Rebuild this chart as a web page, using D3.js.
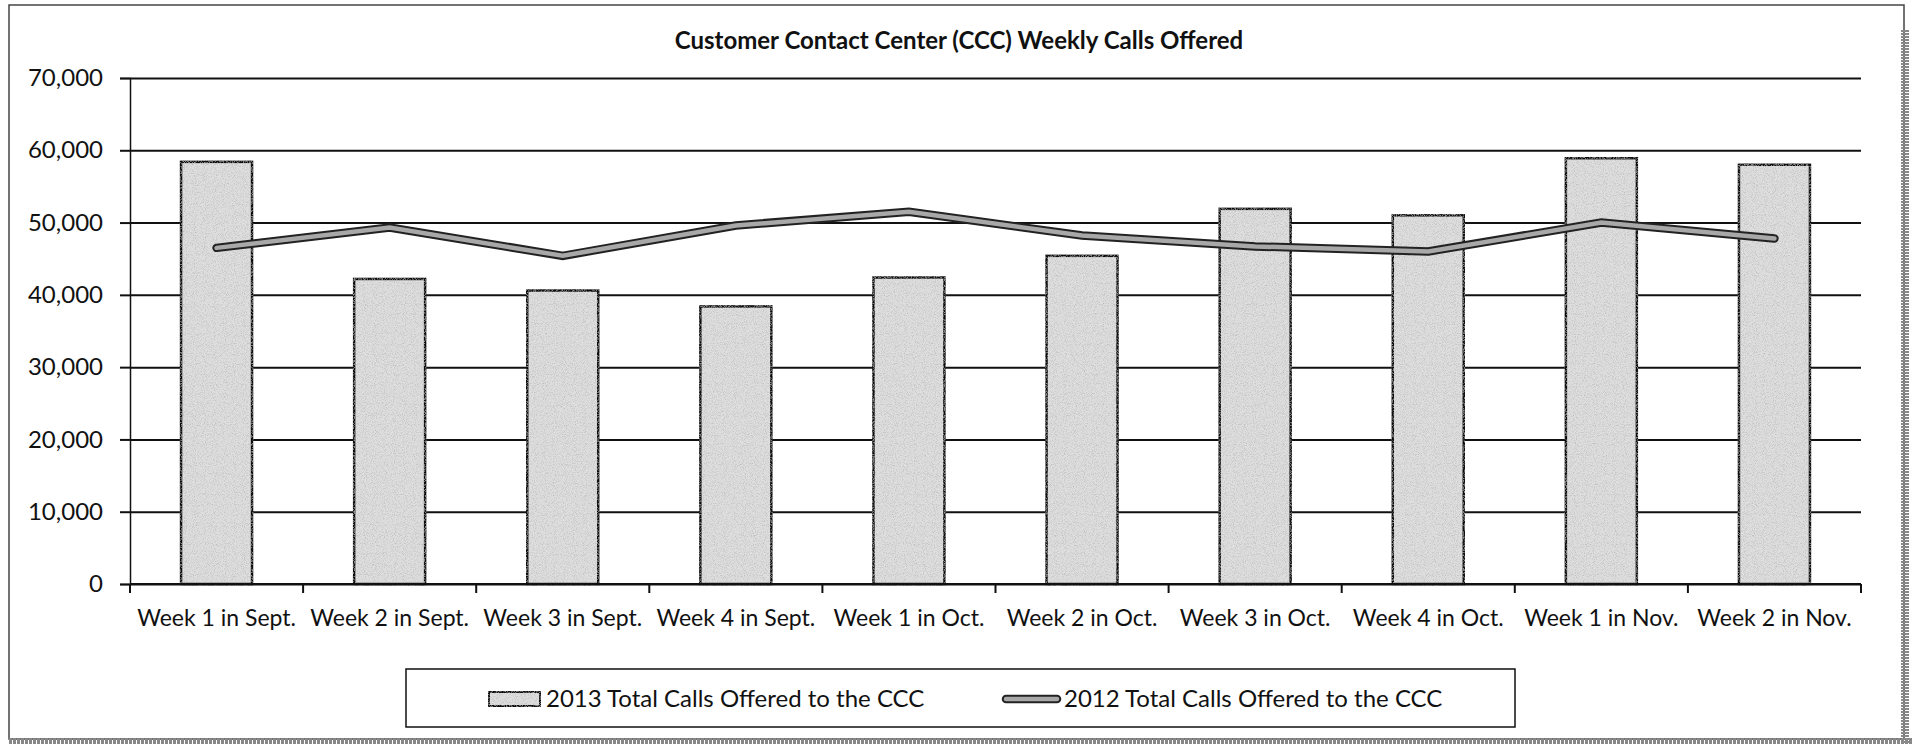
<!DOCTYPE html>
<html>
<head>
<meta charset="utf-8">
<script src="https://d3js.org/d3.v7.min.js"></script>
<style>
  body { margin: 0; background: #fff; }
  svg text { font-family: Lato, "Open Sans", sans-serif; fill: #111; }
</style>
</head>
<body>
<div id="chart"></div>
<script>
// chart data
const weeks = ["Week 1 in Sept.", "Week 2 in Sept.", "Week 3 in Sept.", "Week 4 in Sept.",
               "Week 1 in Oct.", "Week 2 in Oct.", "Week 3 in Oct.", "Week 4 in Oct.",
               "Week 1 in Nov.", "Week 2 in Nov."]
const calls2013 = [58400, 42200, 40600, 38400, 42400, 45400, 51900, 51000, 58900, 58000]
const calls2012 = [46500, 49300, 45400, 49600, 51500, 48200, 46700, 46000, 50000, 47800]
const yTicks = [0, 10000, 20000, 30000, 40000, 50000, 60000, 70000]
const title = "Customer Contact Center (CCC) Weekly Calls Offered"
const seriesNames = ["2013 Total Calls Offered to the CCC", "2012 Total Calls Offered to the CCC"]

buildChart()

function buildChart() {
    let W = 1913, H = 744
    let plot = {left: 130, right: 1861, top: 78, bottom: 584}

    let svg = d3.select("#chart")
                .append("svg")
                    .attr("width", W)
                    .attr("height", H)

    // speckled fill for the bars
    let defs = svg.append("defs")
    let filt = defs.append("filter").attr("id", "speckle")
    filt.append("feTurbulence")
            .attr("type", "fractalNoise")
            .attr("baseFrequency", 1.1)
            .attr("numOctaves", 1)
            .attr("seed", 3)
            .attr("result", "noise")
    filt.append("feColorMatrix")
            .attr("in", "noise")
            .attr("type", "matrix")
            .attr("values", "0 0 0 0 0.45  0 0 0 0 0.45  0 0 0 0 0.45  0 0 0 -2.2 1.2")
            .attr("result", "dots")
    filt.append("feComposite")
            .attr("in", "dots")
            .attr("in2", "SourceGraphic")
            .attr("operator", "in")
            .attr("result", "dotsIn")
    let merge = filt.append("feMerge")
    merge.append("feMergeNode").attr("in", "SourceGraphic")
    merge.append("feMergeNode").attr("in", "dotsIn")

    // outer frame
    svg.append("rect")
        .attr("x", 9).attr("y", 5)
        .attr("width", 1895).attr("height", 734)
        .attr("fill", "none")
        .attr("stroke", "#444")
        .attr("stroke-width", 1.5)
    svg.append("line")
        .attr("x1", 1905).attr("x2", 1905).attr("y1", 30).attr("y2", 744)
        .attr("stroke", "#888").attr("stroke-width", 8)
        .attr("stroke-dasharray", "2 1")
    svg.append("line")
        .attr("x1", 9).attr("x2", 1913).attr("y1", 741).attr("y2", 741)
        .attr("stroke", "#888").attr("stroke-width", 6)
        .attr("stroke-dasharray", "3 1")

    // scales
    let x = d3.scaleBand()
                .domain(weeks)
                .range([plot.left, plot.right])
                .padding(0)
    let xBar = d3.scaleBand()
                .domain(weeks)
                .range([plot.left, plot.right])
                .paddingInner(0.59)
                .paddingOuter(0.295)
    let y = d3.scaleLinear()
                .domain([0, 70000])
                .range([plot.bottom, plot.top])

    // gridlines
    svg.append("g")
        .attr("transform", `translate(${plot.left},0)`)
        .call(d3.axisLeft(y).tickValues(yTicks).tickSize(-(plot.right - plot.left)).tickFormat(""))
        .call(g => g.select(".domain").remove())
        .selectAll("line")
            .attr("stroke", "#111")
            .attr("stroke-width", 2)

    // y axis
    let yAxis = svg.append("g")
        .attr("transform", `translate(${plot.left},0)`)
        .call(d3.axisLeft(y).tickValues(yTicks).tickSize(10).tickPadding(17).tickFormat(d3.format(",")))
    yAxis.select(".domain").attr("stroke", "#111").attr("stroke-width", 1.5)
    yAxis.selectAll("line").attr("stroke", "#111").attr("stroke-width", 2)
    yAxis.selectAll("text")
            .attr("font-size", 24)
            .attr("font-family", "Lato, sans-serif")
            .attr("fill", "#111")

    // bars
    svg.selectAll("rect.bar")
        .data(calls2013)
        .enter().append("rect")
            .attr("class", "bar")
            .attr("x", (d, i) => xBar(weeks[i]))
            .attr("width", xBar.bandwidth())
            .attr("y", d => y(d))
            .attr("height", d => y(0) - y(d))
            .attr("fill", "#dedede")
            .attr("filter", "url(#speckle)")
            .attr("stroke", "#111")
            .attr("stroke-width", 2.5)

    // x axis
    svg.append("line")
        .attr("x1", plot.left).attr("x2", plot.right)
        .attr("y1", y(0)).attr("y2", y(0))
        .attr("stroke", "#111").attr("stroke-width", 2)
    let edges = weeks.map(d => x(d)).concat([x(weeks[weeks.length - 1]) + x.bandwidth()])
    svg.selectAll("line.xtick")
        .data(edges)
        .enter().append("line")
            .attr("class", "xtick")
            .attr("x1", d => d).attr("x2", d => d)
            .attr("y1", y(0)).attr("y2", y(0) + 9)
            .attr("stroke", "#111").attr("stroke-width", 2)
    svg.selectAll("text.xlabel")
        .data(weeks)
        .enter().append("text")
            .attr("class", "xlabel")
            .attr("x", d => x(d) + x.bandwidth() / 2)
            .attr("y", 626)
            .attr("text-anchor", "middle")
            .attr("font-size", 23)
            .text(d => d)

    // 2012 line
    let line = d3.line()
                    .x((d, i) => x(weeks[i]) + x.bandwidth() / 2)
                    .y(d => y(d))
    svg.append("path")
        .datum(calls2012)
        .attr("d", line)
        .attr("fill", "none")
        .attr("stroke", "#222")
        .attr("stroke-width", 8.5)
        .attr("stroke-linecap", "round")
    svg.append("path")
        .datum(calls2012)
        .attr("d", line)
        .attr("fill", "none")
        .attr("stroke", "#a8a8a8")
        .attr("stroke-width", 4.5)
        .attr("stroke-linecap", "round")

    // title
    svg.append("text")
        .attr("x", 959)
        .attr("y", 49)
        .attr("text-anchor", "middle")
        .attr("font-size", 24)
        .attr("font-weight", "bold")
        .text(title)

    // legend
    let legend = svg.append("g")
    legend.append("rect")
        .attr("x", 406).attr("y", 669)
        .attr("width", 1109).attr("height", 58)
        .attr("fill", "#fff")
        .attr("stroke", "#111")
        .attr("stroke-width", 1.5)
    legend.append("rect")
        .attr("x", 489).attr("y", 692)
        .attr("width", 51).attr("height", 14)
        .attr("fill", "#dedede")
        .attr("filter", "url(#speckle)")
        .attr("stroke", "#111")
        .attr("stroke-width", 2)
    legend.append("text")
        .attr("x", 546).attr("y", 707)
        .attr("font-size", 24)
        .text(seriesNames[0])
    legend.append("line")
        .attr("x1", 1006).attr("x2", 1057).attr("y1", 699).attr("y2", 699)
        .attr("stroke", "#222").attr("stroke-width", 8.5).attr("stroke-linecap", "round")
    legend.append("line")
        .attr("x1", 1006).attr("x2", 1057).attr("y1", 699).attr("y2", 699)
        .attr("stroke", "#a8a8a8").attr("stroke-width", 4.5).attr("stroke-linecap", "round")
    legend.append("text")
        .attr("x", 1064).attr("y", 707)
        .attr("font-size", 24)
        .text(seriesNames[1])
}
</script>
</body>
</html>
